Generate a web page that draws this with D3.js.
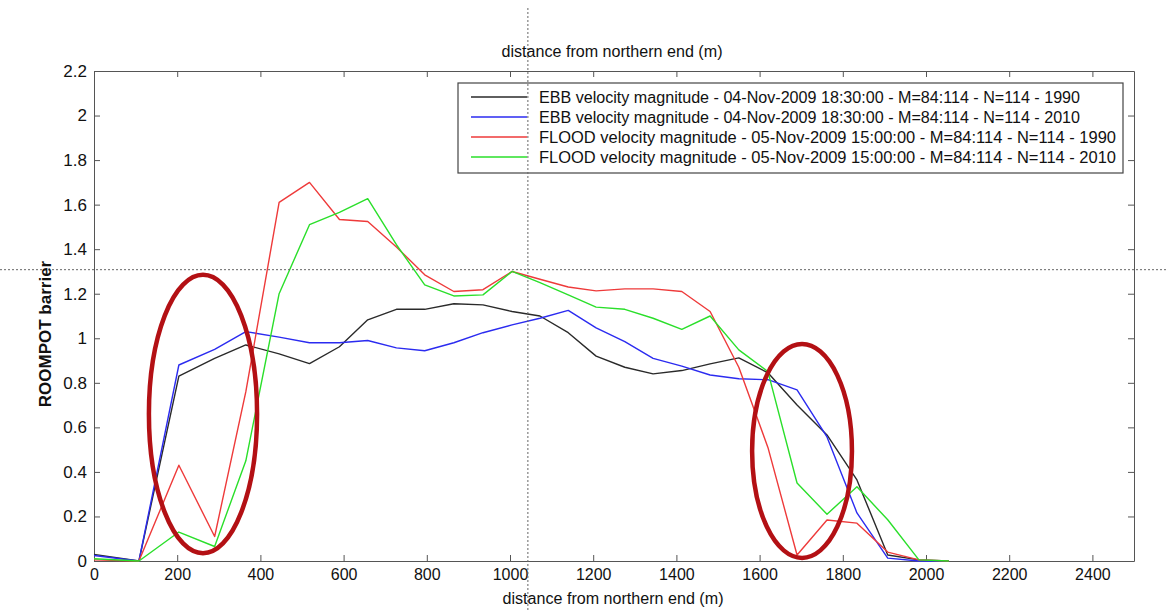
<!DOCTYPE html>
<html>
<head>
<meta charset="utf-8">
<script src="https://cdn.jsdelivr.net/npm/d3@7"></script>
<style>
  body { margin: 0; background: #fff; }
  text { font-family: "Liberation Sans", Arial, sans-serif; fill: #111; }
</style>
</head>
<body>
<script>
var width = 1166, height = 610;
var margin = {left: 94, right: 32, top: 71, bottom: 49};

// distance along the barrier (m)
var distance = [0, 108, 204, 290, 365, 445, 518, 590, 658, 727, 795, 865, 935, 1005, 1072,
                1140, 1207, 1276, 1344, 1413, 1481, 1550, 1620, 1690, 1762, 1834, 1908, 1983, 2055];

var ebb1990 = [0.03, 0.0, 0.83, 0.91, 0.97, 0.93, 0.886, 0.962, 1.083, 1.13, 1.13, 1.155, 1.15, 1.12, 1.10,
               1.025, 0.92, 0.87, 0.84, 0.855, 0.885, 0.912, 0.845, 0.70, 0.566, 0.364, 0.027, 0.005, 0];
var ebb2010 = [0.025, 0.0, 0.88, 0.95, 1.03, 1.005, 0.98, 0.98, 0.99, 0.957, 0.944, 0.98, 1.025, 1.06, 1.09,
               1.125, 1.047, 0.985, 0.91, 0.875, 0.835, 0.818, 0.814, 0.768, 0.557, 0.216, 0.013, 0.0, 0];
var flood1990 = [0.005, 0.0, 0.43, 0.11, 0.76, 1.61, 1.70, 1.533, 1.524, 1.41, 1.285, 1.21, 1.218, 1.30, 1.265,
                 1.23, 1.213, 1.222, 1.222, 1.21, 1.12, 0.87, 0.51, 0.027, 0.184, 0.17, 0.04, 0.005, 0];
var flood2010 = [0.01, 0.0, 0.13, 0.065, 0.45, 1.20, 1.51, 1.565, 1.627, 1.42, 1.24, 1.19, 1.195, 1.30, 1.25,
                 1.195, 1.14, 1.13, 1.09, 1.04, 1.10, 0.948, 0.85, 0.35, 0.21, 0.333, 0.185, 0.005, 0];

var seriesNames = [
  "EBB velocity magnitude - 04-Nov-2009 18:30:00 - M=84:114 - N=114 - 1990",
  "EBB velocity magnitude - 04-Nov-2009 18:30:00 - M=84:114 - N=114 - 2010",
  "FLOOD velocity magnitude - 05-Nov-2009 15:00:00 - M=84:114 - N=114 - 1990",
  "FLOOD velocity magnitude - 05-Nov-2009 15:00:00 - M=84:114 - N=114 - 2010"
];
var seriesValues = [ebb1990, ebb2010, flood1990, flood2010];
var seriesColors = ["#2a2a2a", "#2b2bf0", "#ee3a3a", "#2adf2a"];

var xTicks = d3.range(0, 2401, 200);
var yTicks = [0, 0.2, 0.4, 0.6, 0.8, 1, 1.2, 1.4, 1.6, 1.8, 2, 2.2];

// hand-drawn highlight ellipses: [centre distance, centre value, half-width (m), half-height]
var highlights = [[262, 0.66, 130, 0.625], [1702, 0.494, 120, 0.48]];
// cursor crosshair position (data units)
var cursorX = 1043, cursorY = 1.308;

var svg = d3.select("body").append("svg")
    .attr("width", width)
    .attr("height", height);

var x = d3.scaleLinear().domain([0, 2500]).range([margin.left, width - margin.right]);
var y = d3.scaleLinear().domain([0, 2.2]).range([height - margin.bottom, margin.top]);

var fmt = function(d) { return d3.format("~g")(d); };

// axes, ticks pointing inwards on all four sides
var axisColor = "#555";
svg.append("g").attr("class", "xax").attr("transform", "translate(0," + y(0) + ")")
   .call(d3.axisBottom(x).tickValues(xTicks).tickSizeInner(-6).tickSizeOuter(0).tickPadding(8).tickFormat(fmt));
svg.append("g").attr("transform", "translate(0," + y(2.2) + ")")
   .call(d3.axisTop(x).tickValues(xTicks).tickSizeInner(-6).tickSizeOuter(0).tickFormat(""));
svg.append("g").attr("transform", "translate(" + x(0) + ",0)")
   .call(d3.axisLeft(y).tickValues(yTicks).tickSizeInner(-6).tickSizeOuter(0).tickPadding(7).tickFormat(fmt));
svg.append("g").attr("transform", "translate(" + x(2500) + ",0)")
   .call(d3.axisRight(y).tickValues(yTicks).tickSizeInner(-6).tickSizeOuter(0).tickFormat(""));

svg.selectAll(".domain").attr("stroke", axisColor);
svg.selectAll(".tick line").attr("stroke", axisColor);
svg.selectAll(".tick text").style("font-size", "17px").attr("fill", "#111")
   .style("font-family", "'Liberation Sans', Arial, sans-serif");
svg.selectAll(".xax .tick text").style("font-size", "16px");

// data lines
var line = d3.line()
    .x(function(d, i) { return x(distance[i]); })
    .y(function(d) { return y(d); });

seriesValues.forEach(function(vals, k) {
    svg.append("path")
       .datum(vals)
       .attr("d", line)
       .attr("fill", "none")
       .attr("stroke", seriesColors[k])
       .attr("stroke-width", 1.4)
       .attr("stroke-linejoin", "round");
});

// legend
var lg = svg.append("g");
lg.append("rect")
  .attr("x", 458).attr("y", 83).attr("width", 665).attr("height", 90)
  .attr("fill", "#fff").attr("stroke", "#444").attr("stroke-width", 1.2);
seriesNames.forEach(function(name, k) {
    var ry = 97 + k * 20;
    lg.append("line")
      .attr("x1", 471).attr("x2", 527).attr("y1", ry).attr("y2", ry)
      .attr("stroke", seriesColors[k]).attr("stroke-width", 1.4);
    lg.append("text")
      .attr("x", 539).attr("y", ry + 6)
      .style("font-size", "16px")
      .attr("textLength", k < 2 ? 541 : 577)
      .attr("lengthAdjust", "spacingAndGlyphs")
      .text(name);
});

// red highlight ellipses
svg.selectAll("ellipse.hl")
   .data(highlights)
   .enter().append("ellipse")
   .attr("class", "hl")
   .attr("cx", function(d) { return x(d[0]); })
   .attr("cy", function(d) { return y(d[1]); })
   .attr("rx", function(d) { return x(d[2]) - x(0); })
   .attr("ry", function(d) { return y(0) - y(d[3]); })
   .attr("fill", "none")
   .attr("stroke", "#b31014")
   .attr("stroke-width", 4.5);

// cursor crosshair
svg.append("line")
   .attr("x1", x(cursorX)).attr("x2", x(cursorX)).attr("y1", 8).attr("y2", height)
   .attr("stroke", "#666").attr("stroke-width", 1).attr("stroke-dasharray", "2,2");
svg.append("line")
   .attr("x1", 0).attr("x2", width).attr("y1", y(cursorY)).attr("y2", y(cursorY))
   .attr("stroke", "#666").attr("stroke-width", 1).attr("stroke-dasharray", "2,2");

// labels
svg.append("text")
   .attr("x", 612).attr("y", 57)
   .attr("text-anchor", "middle")
   .style("font-size", "16px")
   .attr("textLength", 221)
   .attr("lengthAdjust", "spacingAndGlyphs")
   .text("distance from northern end (m)");
svg.append("text")
   .attr("x", 613).attr("y", 604)
   .attr("text-anchor", "middle")
   .style("font-size", "16px")
   .attr("textLength", 221)
   .attr("lengthAdjust", "spacingAndGlyphs")
   .text("distance from northern end (m)");
svg.append("text")
   .attr("transform", "translate(51,334) rotate(-90)")
   .attr("text-anchor", "middle")
   .style("font-size", "17px")
   .style("font-weight", "bold")
   .text("ROOMPOT barrier");
</script>
</body>
</html>
